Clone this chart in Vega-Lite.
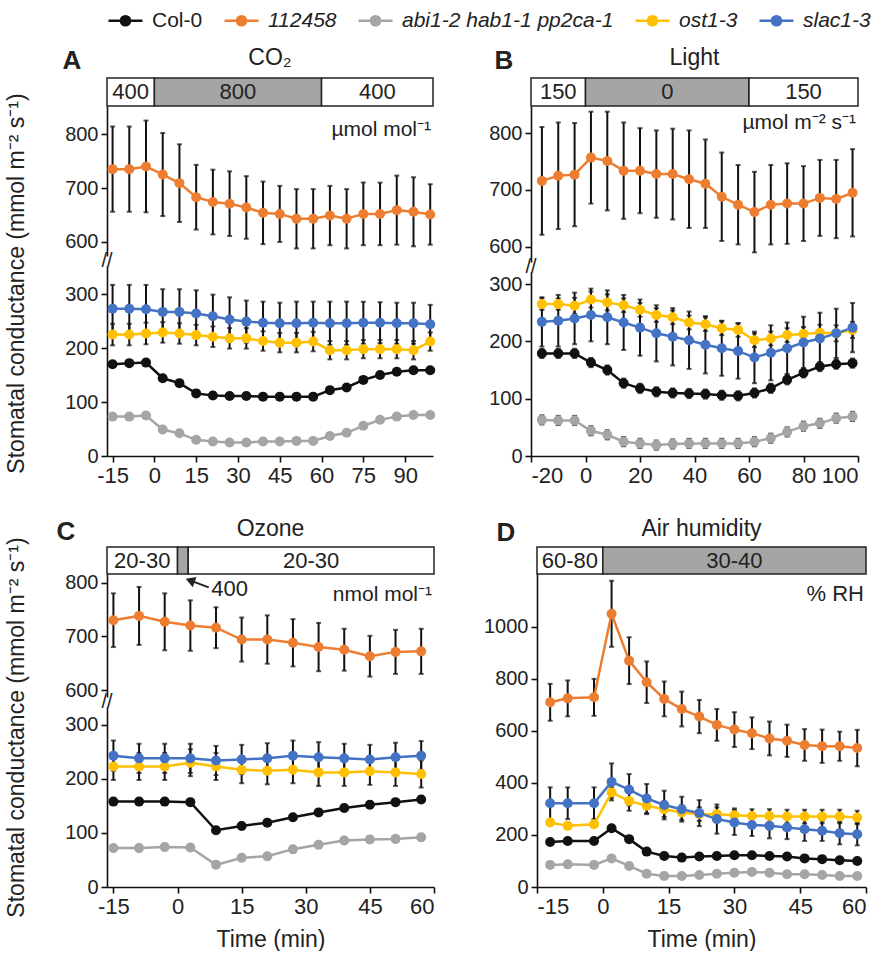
{
"$schema":"https://vega.github.io/schema/vega-lite/v6.json",
"padding":{"left":5,"top":2,"right":5,"bottom":0},
"background":"white",
"config":{
 "font":"Liberation Sans",
 "view":{"stroke":null},
 "axis":{"domainColor":"#111","domainWidth":1.6,"tickColor":"#111","tickWidth":1.6,"tickSize":6,"labelFontSize":20,"labelColor":"#222","titleFontSize":23,"titleFontWeight":"normal","titleColor":"#222","grid":false,"labelPadding":3,"labelFont":"Liberation Sans","titleFont":"Liberation Sans"},
 "axisX":{"labelFontSize":22},
 "legend":{"orient":"top","direction":"horizontal","labelFontSize":21,"labelColor":"#222","labelFont":"Liberation Sans","labelLimit":0,"symbolType":"M-1,0H1M0.27,0A0.27,0.27,0,1,1,-0.27,0A0.27,0.27,0,1,1,0.27,0Z","symbolSize":1156,"symbolStrokeWidth":2.5,"labelOffset":8,"columnPadding":16,"offset":16},
 "text":{"font":"Liberation Sans","color":"#222"}
},
"datasets":{
"boxes":[
{"panel":"A","start":-17,"end":0,"mid":-8.5,"label":"400","shade":"off"},
{"panel":"A","start":0,"end":60,"mid":30,"label":"800","shade":"on"},
{"panel":"A","start":60,"end":100,"mid":80,"label":"400","shade":"off"},
{"panel":"B","start":-20,"end":0,"mid":-10,"label":"150","shade":"off"},
{"panel":"B","start":0,"end":60,"mid":30,"label":"0","shade":"on"},
{"panel":"B","start":60,"end":100,"mid":80,"label":"150","shade":"off"},
{"panel":"C","start":-16.5,"end":0,"mid":-8.25,"label":"20-30","shade":"off"},
{"panel":"C","start":0,"end":2.5,"mid":1.25,"label":"","shade":"on"},
{"panel":"C","start":2.5,"end":60,"mid":31.25,"label":"20-30","shade":"off"},
{"panel":"D","start":-15,"end":0,"mid":-7.5,"label":"60-80","shade":"off"},
{"panel":"D","start":0,"end":60,"mid":30,"label":"30-40","shade":"on"}
],
"obs":[
{"panel":"A","geno":"Col-0","t":-15,"gs":170,"se":5},
{"panel":"A","geno":"Col-0","t":-9,"gs":172,"se":5},
{"panel":"A","geno":"Col-0","t":-3,"gs":173,"se":5},
{"panel":"A","geno":"Col-0","t":3,"gs":144,"se":5},
{"panel":"A","geno":"Col-0","t":9,"gs":135,"se":5},
{"panel":"A","geno":"Col-0","t":15,"gs":116,"se":5},
{"panel":"A","geno":"Col-0","t":21,"gs":112,"se":5},
{"panel":"A","geno":"Col-0","t":27,"gs":111,"se":5},
{"panel":"A","geno":"Col-0","t":33,"gs":111,"se":5},
{"panel":"A","geno":"Col-0","t":39,"gs":110,"se":5},
{"panel":"A","geno":"Col-0","t":45,"gs":110,"se":5},
{"panel":"A","geno":"Col-0","t":51,"gs":110,"se":5},
{"panel":"A","geno":"Col-0","t":57,"gs":110,"se":5},
{"panel":"A","geno":"Col-0","t":63,"gs":122,"se":5},
{"panel":"A","geno":"Col-0","t":69,"gs":127,"se":5},
{"panel":"A","geno":"Col-0","t":75,"gs":141,"se":5},
{"panel":"A","geno":"Col-0","t":81,"gs":150,"se":5},
{"panel":"A","geno":"Col-0","t":87,"gs":156,"se":5},
{"panel":"A","geno":"Col-0","t":93,"gs":159,"se":5},
{"panel":"A","geno":"Col-0","t":99,"gs":159,"se":5},
{"panel":"A","geno":"112458","t":-15,"gs":735,"se":79},
{"panel":"A","geno":"112458","t":-9,"gs":735,"se":79},
{"panel":"A","geno":"112458","t":-3,"gs":740,"se":85},
{"panel":"A","geno":"112458","t":3,"gs":725,"se":77},
{"panel":"A","geno":"112458","t":9,"gs":709,"se":72},
{"panel":"A","geno":"112458","t":15,"gs":683,"se":60},
{"panel":"A","geno":"112458","t":21,"gs":674,"se":60},
{"panel":"A","geno":"112458","t":27,"gs":671,"se":60},
{"panel":"A","geno":"112458","t":33,"gs":664,"se":58},
{"panel":"A","geno":"112458","t":39,"gs":654,"se":58},
{"panel":"A","geno":"112458","t":45,"gs":652,"se":52},
{"panel":"A","geno":"112458","t":51,"gs":643,"se":55},
{"panel":"A","geno":"112458","t":57,"gs":643,"se":55},
{"panel":"A","geno":"112458","t":63,"gs":649,"se":55},
{"panel":"A","geno":"112458","t":69,"gs":643,"se":55},
{"panel":"A","geno":"112458","t":75,"gs":652,"se":58},
{"panel":"A","geno":"112458","t":81,"gs":652,"se":58},
{"panel":"A","geno":"112458","t":87,"gs":659,"se":64},
{"panel":"A","geno":"112458","t":93,"gs":656,"se":64},
{"panel":"A","geno":"112458","t":99,"gs":651,"se":56},
{"panel":"A","geno":"abi1-2 hab1-1 pp2ca-1","t":-15,"gs":73,"se":5},
{"panel":"A","geno":"abi1-2 hab1-1 pp2ca-1","t":-9,"gs":73,"se":5},
{"panel":"A","geno":"abi1-2 hab1-1 pp2ca-1","t":-3,"gs":75,"se":5},
{"panel":"A","geno":"abi1-2 hab1-1 pp2ca-1","t":3,"gs":49,"se":5},
{"panel":"A","geno":"abi1-2 hab1-1 pp2ca-1","t":9,"gs":42,"se":5},
{"panel":"A","geno":"abi1-2 hab1-1 pp2ca-1","t":15,"gs":30,"se":5},
{"panel":"A","geno":"abi1-2 hab1-1 pp2ca-1","t":21,"gs":27,"se":5},
{"panel":"A","geno":"abi1-2 hab1-1 pp2ca-1","t":27,"gs":25,"se":5},
{"panel":"A","geno":"abi1-2 hab1-1 pp2ca-1","t":33,"gs":25,"se":5},
{"panel":"A","geno":"abi1-2 hab1-1 pp2ca-1","t":39,"gs":27,"se":5},
{"panel":"A","geno":"abi1-2 hab1-1 pp2ca-1","t":45,"gs":27,"se":5},
{"panel":"A","geno":"abi1-2 hab1-1 pp2ca-1","t":51,"gs":28,"se":5},
{"panel":"A","geno":"abi1-2 hab1-1 pp2ca-1","t":57,"gs":28,"se":5},
{"panel":"A","geno":"abi1-2 hab1-1 pp2ca-1","t":63,"gs":37,"se":5},
{"panel":"A","geno":"abi1-2 hab1-1 pp2ca-1","t":69,"gs":43,"se":5},
{"panel":"A","geno":"abi1-2 hab1-1 pp2ca-1","t":75,"gs":56,"se":5},
{"panel":"A","geno":"abi1-2 hab1-1 pp2ca-1","t":81,"gs":67,"se":5},
{"panel":"A","geno":"abi1-2 hab1-1 pp2ca-1","t":87,"gs":73,"se":5},
{"panel":"A","geno":"abi1-2 hab1-1 pp2ca-1","t":93,"gs":76,"se":5},
{"panel":"A","geno":"abi1-2 hab1-1 pp2ca-1","t":99,"gs":76,"se":5},
{"panel":"A","geno":"ost1-3","t":-15,"gs":225,"se":20},
{"panel":"A","geno":"ost1-3","t":-9,"gs":225,"se":20},
{"panel":"A","geno":"ost1-3","t":-3,"gs":227,"se":20},
{"panel":"A","geno":"ost1-3","t":3,"gs":229,"se":19},
{"panel":"A","geno":"ost1-3","t":9,"gs":227,"se":19},
{"panel":"A","geno":"ost1-3","t":15,"gs":224,"se":19},
{"panel":"A","geno":"ost1-3","t":21,"gs":221,"se":19},
{"panel":"A","geno":"ost1-3","t":27,"gs":218,"se":19},
{"panel":"A","geno":"ost1-3","t":33,"gs":218,"se":19},
{"panel":"A","geno":"ost1-3","t":39,"gs":213,"se":18},
{"panel":"A","geno":"ost1-3","t":45,"gs":210,"se":18},
{"panel":"A","geno":"ost1-3","t":51,"gs":210,"se":18},
{"panel":"A","geno":"ost1-3","t":57,"gs":212,"se":18},
{"panel":"A","geno":"ost1-3","t":63,"gs":196,"se":17},
{"panel":"A","geno":"ost1-3","t":69,"gs":196,"se":17},
{"panel":"A","geno":"ost1-3","t":75,"gs":198,"se":17},
{"panel":"A","geno":"ost1-3","t":81,"gs":198,"se":17},
{"panel":"A","geno":"ost1-3","t":87,"gs":198,"se":17},
{"panel":"A","geno":"ost1-3","t":93,"gs":196,"se":17},
{"panel":"A","geno":"ost1-3","t":99,"gs":212,"se":17},
{"panel":"A","geno":"slac1-3","t":-15,"gs":273,"se":44},
{"panel":"A","geno":"slac1-3","t":-9,"gs":273,"se":44},
{"panel":"A","geno":"slac1-3","t":-3,"gs":272,"se":45},
{"panel":"A","geno":"slac1-3","t":3,"gs":267,"se":42},
{"panel":"A","geno":"slac1-3","t":9,"gs":267,"se":42},
{"panel":"A","geno":"slac1-3","t":15,"gs":264,"se":43},
{"panel":"A","geno":"slac1-3","t":21,"gs":259,"se":40},
{"panel":"A","geno":"slac1-3","t":27,"gs":253,"se":41},
{"panel":"A","geno":"slac1-3","t":33,"gs":249,"se":39},
{"panel":"A","geno":"slac1-3","t":39,"gs":247,"se":39},
{"panel":"A","geno":"slac1-3","t":45,"gs":246,"se":38},
{"panel":"A","geno":"slac1-3","t":51,"gs":246,"se":40},
{"panel":"A","geno":"slac1-3","t":57,"gs":247,"se":39},
{"panel":"A","geno":"slac1-3","t":63,"gs":246,"se":40},
{"panel":"A","geno":"slac1-3","t":69,"gs":246,"se":40},
{"panel":"A","geno":"slac1-3","t":75,"gs":247,"se":39},
{"panel":"A","geno":"slac1-3","t":81,"gs":247,"se":38},
{"panel":"A","geno":"slac1-3","t":87,"gs":246,"se":38},
{"panel":"A","geno":"slac1-3","t":93,"gs":246,"se":38},
{"panel":"A","geno":"slac1-3","t":99,"gs":244,"se":36},
{"panel":"B","geno":"Col-0","t":-16,"gs":179,"se":8},
{"panel":"B","geno":"Col-0","t":-10,"gs":179,"se":8},
{"panel":"B","geno":"Col-0","t":-4,"gs":179,"se":8},
{"panel":"B","geno":"Col-0","t":2,"gs":163,"se":8},
{"panel":"B","geno":"Col-0","t":8,"gs":150,"se":8},
{"panel":"B","geno":"Col-0","t":14,"gs":127,"se":8},
{"panel":"B","geno":"Col-0","t":20,"gs":118,"se":8},
{"panel":"B","geno":"Col-0","t":26,"gs":112,"se":8},
{"panel":"B","geno":"Col-0","t":32,"gs":110,"se":8},
{"panel":"B","geno":"Col-0","t":38,"gs":109,"se":8},
{"panel":"B","geno":"Col-0","t":44,"gs":108,"se":8},
{"panel":"B","geno":"Col-0","t":50,"gs":106,"se":8},
{"panel":"B","geno":"Col-0","t":56,"gs":105,"se":8},
{"panel":"B","geno":"Col-0","t":62,"gs":110,"se":8},
{"panel":"B","geno":"Col-0","t":68,"gs":118,"se":8},
{"panel":"B","geno":"Col-0","t":74,"gs":133,"se":8},
{"panel":"B","geno":"Col-0","t":80,"gs":145,"se":8},
{"panel":"B","geno":"Col-0","t":86,"gs":156,"se":8},
{"panel":"B","geno":"Col-0","t":92,"gs":160,"se":8},
{"panel":"B","geno":"Col-0","t":98,"gs":162,"se":8},
{"panel":"B","geno":"112458","t":-16,"gs":716,"se":95},
{"panel":"B","geno":"112458","t":-10,"gs":725,"se":94},
{"panel":"B","geno":"112458","t":-4,"gs":727,"se":91},
{"panel":"B","geno":"112458","t":2,"gs":757,"se":81},
{"panel":"B","geno":"112458","t":8,"gs":751,"se":87},
{"panel":"B","geno":"112458","t":14,"gs":734,"se":85},
{"panel":"B","geno":"112458","t":20,"gs":734,"se":75},
{"panel":"B","geno":"112458","t":26,"gs":728,"se":77},
{"panel":"B","geno":"112458","t":32,"gs":728,"se":80},
{"panel":"B","geno":"112458","t":38,"gs":719,"se":86},
{"panel":"B","geno":"112458","t":44,"gs":711,"se":78},
{"panel":"B","geno":"112458","t":50,"gs":688,"se":78},
{"panel":"B","geno":"112458","t":56,"gs":674,"se":70},
{"panel":"B","geno":"112458","t":62,"gs":661,"se":71},
{"panel":"B","geno":"112458","t":68,"gs":674,"se":70},
{"panel":"B","geno":"112458","t":74,"gs":676,"se":71},
{"panel":"B","geno":"112458","t":80,"gs":676,"se":66},
{"panel":"B","geno":"112458","t":86,"gs":686,"se":67},
{"panel":"B","geno":"112458","t":92,"gs":684,"se":69},
{"panel":"B","geno":"112458","t":98,"gs":695,"se":77},
{"panel":"B","geno":"abi1-2 hab1-1 pp2ca-1","t":-16,"gs":63,"se":8},
{"panel":"B","geno":"abi1-2 hab1-1 pp2ca-1","t":-10,"gs":62,"se":8},
{"panel":"B","geno":"abi1-2 hab1-1 pp2ca-1","t":-4,"gs":62,"se":8},
{"panel":"B","geno":"abi1-2 hab1-1 pp2ca-1","t":2,"gs":44,"se":8},
{"panel":"B","geno":"abi1-2 hab1-1 pp2ca-1","t":8,"gs":37,"se":8},
{"panel":"B","geno":"abi1-2 hab1-1 pp2ca-1","t":14,"gs":25,"se":8},
{"panel":"B","geno":"abi1-2 hab1-1 pp2ca-1","t":20,"gs":22,"se":8},
{"panel":"B","geno":"abi1-2 hab1-1 pp2ca-1","t":26,"gs":19,"se":8},
{"panel":"B","geno":"abi1-2 hab1-1 pp2ca-1","t":32,"gs":21,"se":8},
{"panel":"B","geno":"abi1-2 hab1-1 pp2ca-1","t":38,"gs":22,"se":8},
{"panel":"B","geno":"abi1-2 hab1-1 pp2ca-1","t":44,"gs":22,"se":8},
{"panel":"B","geno":"abi1-2 hab1-1 pp2ca-1","t":50,"gs":22,"se":8},
{"panel":"B","geno":"abi1-2 hab1-1 pp2ca-1","t":56,"gs":22,"se":8},
{"panel":"B","geno":"abi1-2 hab1-1 pp2ca-1","t":62,"gs":25,"se":8},
{"panel":"B","geno":"abi1-2 hab1-1 pp2ca-1","t":68,"gs":31,"se":8},
{"panel":"B","geno":"abi1-2 hab1-1 pp2ca-1","t":74,"gs":42,"se":8},
{"panel":"B","geno":"abi1-2 hab1-1 pp2ca-1","t":80,"gs":52,"se":8},
{"panel":"B","geno":"abi1-2 hab1-1 pp2ca-1","t":86,"gs":57,"se":8},
{"panel":"B","geno":"abi1-2 hab1-1 pp2ca-1","t":92,"gs":66,"se":8},
{"panel":"B","geno":"abi1-2 hab1-1 pp2ca-1","t":98,"gs":69,"se":8},
{"panel":"B","geno":"ost1-3","t":-16,"gs":265,"se":10},
{"panel":"B","geno":"ost1-3","t":-10,"gs":265,"se":10},
{"panel":"B","geno":"ost1-3","t":-4,"gs":262,"se":14},
{"panel":"B","geno":"ost1-3","t":2,"gs":273,"se":14},
{"panel":"B","geno":"ost1-3","t":8,"gs":268,"se":14},
{"panel":"B","geno":"ost1-3","t":14,"gs":263,"se":12},
{"panel":"B","geno":"ost1-3","t":20,"gs":255,"se":12},
{"panel":"B","geno":"ost1-3","t":26,"gs":246,"se":12},
{"panel":"B","geno":"ost1-3","t":32,"gs":242,"se":12},
{"panel":"B","geno":"ost1-3","t":38,"gs":233,"se":12},
{"panel":"B","geno":"ost1-3","t":44,"gs":230,"se":12},
{"panel":"B","geno":"ost1-3","t":50,"gs":223,"se":12},
{"panel":"B","geno":"ost1-3","t":56,"gs":220,"se":12},
{"panel":"B","geno":"ost1-3","t":62,"gs":202,"se":12},
{"panel":"B","geno":"ost1-3","t":68,"gs":205,"se":12},
{"panel":"B","geno":"ost1-3","t":74,"gs":211,"se":12},
{"panel":"B","geno":"ost1-3","t":80,"gs":213,"se":12},
{"panel":"B","geno":"ost1-3","t":86,"gs":215,"se":14},
{"panel":"B","geno":"ost1-3","t":92,"gs":214,"se":14},
{"panel":"B","geno":"ost1-3","t":98,"gs":220,"se":14},
{"panel":"B","geno":"slac1-3","t":-16,"gs":234,"se":43},
{"panel":"B","geno":"slac1-3","t":-10,"gs":236,"se":45},
{"panel":"B","geno":"slac1-3","t":-4,"gs":240,"se":45},
{"panel":"B","geno":"slac1-3","t":2,"gs":246,"se":46},
{"panel":"B","geno":"slac1-3","t":8,"gs":242,"se":47},
{"panel":"B","geno":"slac1-3","t":14,"gs":233,"se":48},
{"panel":"B","geno":"slac1-3","t":20,"gs":224,"se":49},
{"panel":"B","geno":"slac1-3","t":26,"gs":214,"se":49},
{"panel":"B","geno":"slac1-3","t":32,"gs":208,"se":50},
{"panel":"B","geno":"slac1-3","t":38,"gs":202,"se":50},
{"panel":"B","geno":"slac1-3","t":44,"gs":194,"se":50},
{"panel":"B","geno":"slac1-3","t":50,"gs":188,"se":48},
{"panel":"B","geno":"slac1-3","t":56,"gs":183,"se":48},
{"panel":"B","geno":"slac1-3","t":62,"gs":172,"se":45},
{"panel":"B","geno":"slac1-3","t":68,"gs":180,"se":48},
{"panel":"B","geno":"slac1-3","t":74,"gs":188,"se":45},
{"panel":"B","geno":"slac1-3","t":80,"gs":198,"se":45},
{"panel":"B","geno":"slac1-3","t":86,"gs":205,"se":45},
{"panel":"B","geno":"slac1-3","t":92,"gs":214,"se":43},
{"panel":"B","geno":"slac1-3","t":98,"gs":224,"se":43},
{"panel":"C","geno":"Col-0","t":-15,"gs":158,"se":6},
{"panel":"C","geno":"Col-0","t":-9,"gs":158,"se":6},
{"panel":"C","geno":"Col-0","t":-3,"gs":158,"se":6},
{"panel":"C","geno":"Col-0","t":3,"gs":157,"se":6},
{"panel":"C","geno":"Col-0","t":9,"gs":105,"se":6},
{"panel":"C","geno":"Col-0","t":15,"gs":113,"se":6},
{"panel":"C","geno":"Col-0","t":21,"gs":119,"se":6},
{"panel":"C","geno":"Col-0","t":27,"gs":129,"se":6},
{"panel":"C","geno":"Col-0","t":33,"gs":138,"se":6},
{"panel":"C","geno":"Col-0","t":39,"gs":146,"se":6},
{"panel":"C","geno":"Col-0","t":45,"gs":152,"se":6},
{"panel":"C","geno":"Col-0","t":51,"gs":157,"se":6},
{"panel":"C","geno":"Col-0","t":57,"gs":162,"se":6},
{"panel":"C","geno":"112458","t":-15,"gs":730,"se":50},
{"panel":"C","geno":"112458","t":-9,"gs":738,"se":54},
{"panel":"C","geno":"112458","t":-3,"gs":727,"se":53},
{"panel":"C","geno":"112458","t":3,"gs":720,"se":47},
{"panel":"C","geno":"112458","t":9,"gs":716,"se":38},
{"panel":"C","geno":"112458","t":15,"gs":694,"se":41},
{"panel":"C","geno":"112458","t":21,"gs":694,"se":45},
{"panel":"C","geno":"112458","t":27,"gs":688,"se":44},
{"panel":"C","geno":"112458","t":33,"gs":680,"se":45},
{"panel":"C","geno":"112458","t":39,"gs":675,"se":39},
{"panel":"C","geno":"112458","t":45,"gs":663,"se":38},
{"panel":"C","geno":"112458","t":51,"gs":671,"se":41},
{"panel":"C","geno":"112458","t":57,"gs":672,"se":42},
{"panel":"C","geno":"abi1-2 hab1-1 pp2ca-1","t":-15,"gs":72,"se":6},
{"panel":"C","geno":"abi1-2 hab1-1 pp2ca-1","t":-9,"gs":72,"se":6},
{"panel":"C","geno":"abi1-2 hab1-1 pp2ca-1","t":-3,"gs":74,"se":6},
{"panel":"C","geno":"abi1-2 hab1-1 pp2ca-1","t":3,"gs":73,"se":6},
{"panel":"C","geno":"abi1-2 hab1-1 pp2ca-1","t":9,"gs":41,"se":6},
{"panel":"C","geno":"abi1-2 hab1-1 pp2ca-1","t":15,"gs":54,"se":6},
{"panel":"C","geno":"abi1-2 hab1-1 pp2ca-1","t":21,"gs":57,"se":6},
{"panel":"C","geno":"abi1-2 hab1-1 pp2ca-1","t":27,"gs":70,"se":6},
{"panel":"C","geno":"abi1-2 hab1-1 pp2ca-1","t":33,"gs":78,"se":6},
{"panel":"C","geno":"abi1-2 hab1-1 pp2ca-1","t":39,"gs":86,"se":6},
{"panel":"C","geno":"abi1-2 hab1-1 pp2ca-1","t":45,"gs":88,"se":6},
{"panel":"C","geno":"abi1-2 hab1-1 pp2ca-1","t":51,"gs":89,"se":6},
{"panel":"C","geno":"abi1-2 hab1-1 pp2ca-1","t":57,"gs":92,"se":6},
{"panel":"C","geno":"ost1-3","t":-15,"gs":223,"se":25},
{"panel":"C","geno":"ost1-3","t":-9,"gs":223,"se":25},
{"panel":"C","geno":"ost1-3","t":-3,"gs":223,"se":25},
{"panel":"C","geno":"ost1-3","t":3,"gs":230,"se":25},
{"panel":"C","geno":"ost1-3","t":9,"gs":223,"se":25},
{"panel":"C","geno":"ost1-3","t":15,"gs":217,"se":25},
{"panel":"C","geno":"ost1-3","t":21,"gs":215,"se":25},
{"panel":"C","geno":"ost1-3","t":27,"gs":217,"se":25},
{"panel":"C","geno":"ost1-3","t":33,"gs":212,"se":25},
{"panel":"C","geno":"ost1-3","t":39,"gs":212,"se":25},
{"panel":"C","geno":"ost1-3","t":45,"gs":214,"se":25},
{"panel":"C","geno":"ost1-3","t":51,"gs":212,"se":25},
{"panel":"C","geno":"ost1-3","t":57,"gs":209,"se":25},
{"panel":"C","geno":"slac1-3","t":-15,"gs":243,"se":28},
{"panel":"C","geno":"slac1-3","t":-9,"gs":238,"se":27},
{"panel":"C","geno":"slac1-3","t":-3,"gs":238,"se":27},
{"panel":"C","geno":"slac1-3","t":3,"gs":238,"se":27},
{"panel":"C","geno":"slac1-3","t":9,"gs":234,"se":27},
{"panel":"C","geno":"slac1-3","t":15,"gs":236,"se":27},
{"panel":"C","geno":"slac1-3","t":21,"gs":238,"se":28},
{"panel":"C","geno":"slac1-3","t":27,"gs":243,"se":28},
{"panel":"C","geno":"slac1-3","t":33,"gs":240,"se":28},
{"panel":"C","geno":"slac1-3","t":39,"gs":238,"se":27},
{"panel":"C","geno":"slac1-3","t":45,"gs":236,"se":27},
{"panel":"C","geno":"slac1-3","t":51,"gs":240,"se":27},
{"panel":"C","geno":"slac1-3","t":57,"gs":243,"se":27},
{"panel":"D","geno":"Col-0","t":-12,"gs":173,"se":8},
{"panel":"D","geno":"Col-0","t":-8,"gs":177,"se":8},
{"panel":"D","geno":"Col-0","t":-2,"gs":177,"se":8},
{"panel":"D","geno":"Col-0","t":2,"gs":226,"se":8},
{"panel":"D","geno":"Col-0","t":6,"gs":184,"se":8},
{"panel":"D","geno":"Col-0","t":10,"gs":136,"se":8},
{"panel":"D","geno":"Col-0","t":14,"gs":119,"se":8},
{"panel":"D","geno":"Col-0","t":18,"gs":113,"se":8},
{"panel":"D","geno":"Col-0","t":22,"gs":117,"se":8},
{"panel":"D","geno":"Col-0","t":26,"gs":119,"se":8},
{"panel":"D","geno":"Col-0","t":30,"gs":122,"se":8},
{"panel":"D","geno":"Col-0","t":34,"gs":122,"se":8},
{"panel":"D","geno":"Col-0","t":38,"gs":119,"se":8},
{"panel":"D","geno":"Col-0","t":42,"gs":117,"se":8},
{"panel":"D","geno":"Col-0","t":46,"gs":110,"se":8},
{"panel":"D","geno":"Col-0","t":50,"gs":107,"se":8},
{"panel":"D","geno":"Col-0","t":54,"gs":103,"se":8},
{"panel":"D","geno":"Col-0","t":58,"gs":100,"se":8},
{"panel":"D","geno":"112458","t":-12,"gs":710,"se":71},
{"panel":"D","geno":"112458","t":-8,"gs":725,"se":69},
{"panel":"D","geno":"112458","t":-2,"gs":729,"se":71},
{"panel":"D","geno":"112458","t":2,"gs":1050,"se":127},
{"panel":"D","geno":"112458","t":6,"gs":870,"se":90},
{"panel":"D","geno":"112458","t":10,"gs":787,"se":80},
{"panel":"D","geno":"112458","t":14,"gs":723,"se":67},
{"panel":"D","geno":"112458","t":18,"gs":684,"se":67},
{"panel":"D","geno":"112458","t":22,"gs":655,"se":64},
{"panel":"D","geno":"112458","t":26,"gs":623,"se":61},
{"panel":"D","geno":"112458","t":30,"gs":605,"se":67},
{"panel":"D","geno":"112458","t":34,"gs":591,"se":61},
{"panel":"D","geno":"112458","t":38,"gs":571,"se":65},
{"panel":"D","geno":"112458","t":42,"gs":562,"se":62},
{"panel":"D","geno":"112458","t":46,"gs":546,"se":61},
{"panel":"D","geno":"112458","t":50,"gs":541,"se":64},
{"panel":"D","geno":"112458","t":54,"gs":541,"se":56},
{"panel":"D","geno":"112458","t":58,"gs":534,"se":70},
{"panel":"D","geno":"abi1-2 hab1-1 pp2ca-1","t":-12,"gs":85,"se":6},
{"panel":"D","geno":"abi1-2 hab1-1 pp2ca-1","t":-8,"gs":87,"se":6},
{"panel":"D","geno":"abi1-2 hab1-1 pp2ca-1","t":-2,"gs":85,"se":6},
{"panel":"D","geno":"abi1-2 hab1-1 pp2ca-1","t":2,"gs":110,"se":6},
{"panel":"D","geno":"abi1-2 hab1-1 pp2ca-1","t":6,"gs":81,"se":6},
{"panel":"D","geno":"abi1-2 hab1-1 pp2ca-1","t":10,"gs":51,"se":6},
{"panel":"D","geno":"abi1-2 hab1-1 pp2ca-1","t":14,"gs":42,"se":6},
{"panel":"D","geno":"abi1-2 hab1-1 pp2ca-1","t":18,"gs":42,"se":6},
{"panel":"D","geno":"abi1-2 hab1-1 pp2ca-1","t":22,"gs":46,"se":6},
{"panel":"D","geno":"abi1-2 hab1-1 pp2ca-1","t":26,"gs":51,"se":6},
{"panel":"D","geno":"abi1-2 hab1-1 pp2ca-1","t":30,"gs":55,"se":6},
{"panel":"D","geno":"abi1-2 hab1-1 pp2ca-1","t":34,"gs":58,"se":6},
{"panel":"D","geno":"abi1-2 hab1-1 pp2ca-1","t":38,"gs":55,"se":6},
{"panel":"D","geno":"abi1-2 hab1-1 pp2ca-1","t":42,"gs":49,"se":6},
{"panel":"D","geno":"abi1-2 hab1-1 pp2ca-1","t":46,"gs":49,"se":6},
{"panel":"D","geno":"abi1-2 hab1-1 pp2ca-1","t":50,"gs":46,"se":6},
{"panel":"D","geno":"abi1-2 hab1-1 pp2ca-1","t":54,"gs":42,"se":6},
{"panel":"D","geno":"abi1-2 hab1-1 pp2ca-1","t":58,"gs":42,"se":6},
{"panel":"D","geno":"ost1-3","t":-12,"gs":248,"se":10},
{"panel":"D","geno":"ost1-3","t":-8,"gs":235,"se":10},
{"panel":"D","geno":"ost1-3","t":-2,"gs":241,"se":10},
{"panel":"D","geno":"ost1-3","t":2,"gs":363,"se":20},
{"panel":"D","geno":"ost1-3","t":6,"gs":331,"se":38},
{"panel":"D","geno":"ost1-3","t":10,"gs":312,"se":32},
{"panel":"D","geno":"ost1-3","t":14,"gs":299,"se":30},
{"panel":"D","geno":"ost1-3","t":18,"gs":286,"se":28},
{"panel":"D","geno":"ost1-3","t":22,"gs":280,"se":26},
{"panel":"D","geno":"ost1-3","t":26,"gs":280,"se":26},
{"panel":"D","geno":"ost1-3","t":30,"gs":276,"se":26},
{"panel":"D","geno":"ost1-3","t":34,"gs":273,"se":26},
{"panel":"D","geno":"ost1-3","t":38,"gs":273,"se":26},
{"panel":"D","geno":"ost1-3","t":42,"gs":271,"se":26},
{"panel":"D","geno":"ost1-3","t":46,"gs":271,"se":26},
{"panel":"D","geno":"ost1-3","t":50,"gs":271,"se":26},
{"panel":"D","geno":"ost1-3","t":54,"gs":271,"se":26},
{"panel":"D","geno":"ost1-3","t":58,"gs":267,"se":26},
{"panel":"D","geno":"slac1-3","t":-12,"gs":322,"se":61},
{"panel":"D","geno":"slac1-3","t":-8,"gs":322,"se":61},
{"panel":"D","geno":"slac1-3","t":-2,"gs":322,"se":61},
{"panel":"D","geno":"slac1-3","t":2,"gs":404,"se":71},
{"panel":"D","geno":"slac1-3","t":6,"gs":374,"se":60},
{"panel":"D","geno":"slac1-3","t":10,"gs":340,"se":56},
{"panel":"D","geno":"slac1-3","t":14,"gs":315,"se":55},
{"panel":"D","geno":"slac1-3","t":18,"gs":299,"se":48},
{"panel":"D","geno":"slac1-3","t":22,"gs":284,"se":50},
{"panel":"D","geno":"slac1-3","t":26,"gs":261,"se":56},
{"panel":"D","geno":"slac1-3","t":30,"gs":248,"se":48},
{"panel":"D","geno":"slac1-3","t":34,"gs":238,"se":42},
{"panel":"D","geno":"slac1-3","t":38,"gs":235,"se":48},
{"panel":"D","geno":"slac1-3","t":42,"gs":229,"se":45},
{"panel":"D","geno":"slac1-3","t":46,"gs":222,"se":45},
{"panel":"D","geno":"slac1-3","t":50,"gs":216,"se":39},
{"panel":"D","geno":"slac1-3","t":54,"gs":207,"se":43},
{"panel":"D","geno":"slac1-3","t":58,"gs":203,"se":43}
]
},
"vconcat":[
{"hconcat":[
 {"vconcat":[
  {"width":326,"height":28,
   "layer":[
    {"data":{"name":"boxes"},"transform":[{"filter":"datum.panel == 'A'"}],
     "layer":[
      {"mark":{"type":"rect","stroke":"#222","strokeWidth":1.5},
       "encoding":{"x":{"field":"start","type":"quantitative","scale":{"domain":[-17,100],"nice":false,"zero":false},"axis":null},"x2":{"field":"end"},
        "fill":{"field":"shade","type":"nominal","scale":{"domain":["off","on"],"range":["#ffffff","#a6a5a5"]},"legend":null}}},
      {"mark":{"type":"text","fontSize":22,"baseline":"middle"},
       "encoding":{"x":{"field":"mid","type":"quantitative"},"text":{"field":"label"}}}
     ]},
    {"data":{"values":[{"letter":"A"}]},
     "mark":{"type":"text","fontSize":26,"fontWeight":"bold","dx":-35,"dy":-31,"baseline":"middle"},
     "encoding":{"x":{"datum":-17},"text":{"field":"letter"}}},
    {"data":{"values":[{"head":"CO₂"}]},
     "mark":{"type":"text","fontSize":23,"dy":-34,"baseline":"middle"},
     "encoding":{"x":{"datum":41.5},"text":{"field":"head"}}}
   ]},
  {"vconcat":[
   {"width":326,"height":150,
    "layer":[
     {"data":{"name":"obs"},"transform":[{"filter":"datum.panel == 'A' && datum.geno == '112458'"}],
      "encoding":{"x":{"field":"t","type":"quantitative","scale":{"domain":[-17,100],"nice":false,"zero":false},"axis":null},
       "y":{"field":"gs","type":"quantitative","scale":{"domain":[574,852],"nice":false,"zero":false},"axis":{"values":[600,700,800],"title":null}}},
      "layer":[
       {"mark":{"type":"errorbar","ticks":true,"thickness":2,"color":"#111"},"encoding":{"yError":{"field":"se"}}},
       {"mark":{"type":"line","strokeWidth":2.5},"encoding":{"color":{"field":"geno","type":"nominal","scale":{"domain":["Col-0","112458","abi1-2 hab1-1 pp2ca-1","ost1-3","slac1-3"],"range":["#111111","#ED7D31","#A5A5A5","#FFC000","#4472C4"]},"legend":{"title":null,"encode":{"symbols":{"update":{"fill":{"scale":"color","field":"value"},"stroke":{"scale":"color","field":"value"},"strokeWidth":{"value":2.5},"opacity":{"value":1}}},"labels":{"update":{"fontStyle":{"signal":"datum.value === 'Col-0' ? 'normal' : 'italic'"}}}}}}}},
       {"mark":{"type":"point","filled":true,"size":100,"opacity":1},"encoding":{"color":{"field":"geno","type":"nominal","legend":{"title":null,"encode":{"symbols":{"update":{"fill":{"scale":"color","field":"value"},"stroke":{"scale":"color","field":"value"},"strokeWidth":{"value":2.5},"opacity":{"value":1}}},"labels":{"update":{"fontStyle":{"signal":"datum.value === 'Col-0' ? 'normal' : 'italic'"}}}}}}}}
      ]},
     {"data":{"values":[{"unit":"µmol mol⁻¹"}]},"mark":{"type":"text","align":"right","baseline":"middle","fontSize":21,"dx":-2},
      "encoding":{"x":{"datum":100},"y":{"datum":808},"text":{"field":"unit"}}}
    ]},
   {"width":326,"height":190,
    "layer":[
     {"data":{"name":"obs"},"transform":[{"filter":"datum.panel == 'A' && datum.geno != '112458'"}],
      "encoding":{"x":{"field":"t","type":"quantitative","scale":{"domain":[-17,100],"nice":false,"zero":false},"axis":{"values":[-15,0,15,30,45,60,75,90],"title":null,"labelExpr":"'' + datum.value"}},
       "y":{"field":"gs","type":"quantitative","scale":{"domain":[0,352],"nice":false,"zero":false},"axis":{"values":[0,100,200,300],"title":"Stomatal conductance (mmol m⁻² s⁻¹)","titleY":17,"titlePadding":36}}},
      "layer":[
       {"mark":{"type":"errorbar","ticks":true,"thickness":2,"color":"#111"},"encoding":{"yError":{"field":"se"}}},
       {"mark":{"type":"line","strokeWidth":2.5},"encoding":{"color":{"field":"geno","type":"nominal"}}},
       {"mark":{"type":"point","filled":true,"size":100,"opacity":1},"encoding":{"color":{"field":"geno","type":"nominal"}}}
      ]},
     {"data":{"values":[{"brk":"//"}]},"mark":{"type":"text","fontSize":20,"baseline":"middle","dy":-5},
      "encoding":{"x":{"datum":-17},"y":{"datum":352},"text":{"field":"brk"}}}
    ]}
  ],"spacing":10,"bounds":"flush","resolve":{"scale":{"x":"independent","y":"independent"}}}
 ],"spacing":0,"bounds":"flush","resolve":{"scale":{"x":"independent","y":"independent"}}},
 {"vconcat":[
  {"width":327,"height":28,
   "layer":[
    {"data":{"name":"boxes"},"transform":[{"filter":"datum.panel == 'B'"}],
     "layer":[
      {"mark":{"type":"rect","stroke":"#222","strokeWidth":1.5},
       "encoding":{"x":{"field":"start","type":"quantitative","scale":{"domain":[-20,100],"nice":false,"zero":false},"axis":null},"x2":{"field":"end"},
        "fill":{"field":"shade","type":"nominal","scale":{"domain":["off","on"],"range":["#ffffff","#a6a5a5"]},"legend":null}}},
      {"mark":{"type":"text","fontSize":22,"baseline":"middle"},
       "encoding":{"x":{"field":"mid","type":"quantitative"},"text":{"field":"label"}}}
     ]},
    {"data":{"values":[{"letter":"B"}]},
     "mark":{"type":"text","fontSize":26,"fontWeight":"bold","dx":-27,"dy":-31,"baseline":"middle"},
     "encoding":{"x":{"datum":-20},"text":{"field":"letter"}}},
    {"data":{"values":[{"head":"Light"}]},
     "mark":{"type":"text","fontSize":23,"dy":-34,"baseline":"middle"},
     "encoding":{"x":{"datum":40},"text":{"field":"head"}}}
   ]},
  {"vconcat":[
   {"width":327,"height":156,
    "layer":[
     {"data":{"name":"obs"},"transform":[{"filter":"datum.panel == 'B' && datum.geno == '112458'"}],
      "encoding":{"x":{"field":"t","type":"quantitative","scale":{"domain":[-20,100],"nice":false,"zero":false},"axis":null},
       "y":{"field":"gs","type":"quantitative","scale":{"domain":[573,848],"nice":false,"zero":false},"axis":{"values":[600,700,800],"title":null}}},
      "layer":[
       {"mark":{"type":"errorbar","ticks":true,"thickness":2,"color":"#111"},"encoding":{"yError":{"field":"se"}}},
       {"mark":{"type":"line","strokeWidth":2.5},"encoding":{"color":{"field":"geno","type":"nominal"}}},
       {"mark":{"type":"point","filled":true,"size":100,"opacity":1},"encoding":{"color":{"field":"geno","type":"nominal"}}}
      ]},
     {"data":{"values":[{"unit":"µmol m⁻² s⁻¹"}]},"mark":{"type":"text","align":"right","baseline":"middle","fontSize":21,"dx":-2},
      "encoding":{"x":{"datum":100},"y":{"datum":818},"text":{"field":"unit"}}}
    ]},
   {"width":327,"height":184,
    "layer":[
     {"data":{"name":"obs"},"transform":[{"filter":"datum.panel == 'B' && datum.geno != '112458'"}],
      "encoding":{"x":{"field":"t","type":"quantitative","scale":{"domain":[-20,100],"nice":false,"zero":false},"axis":{"values":[-20,0,20,40,60,80,100],"title":null,"labelExpr":"'' + datum.value"}},
       "y":{"field":"gs","type":"quantitative","scale":{"domain":[0,321],"nice":false,"zero":false},"axis":{"values":[0,100,200,300],"title":null}}},
      "layer":[
       {"mark":{"type":"errorbar","ticks":true,"thickness":2,"color":"#111"},"encoding":{"yError":{"field":"se"}}},
       {"mark":{"type":"line","strokeWidth":2.5},"encoding":{"color":{"field":"geno","type":"nominal"}}},
       {"mark":{"type":"point","filled":true,"size":100,"opacity":1},"encoding":{"color":{"field":"geno","type":"nominal"}}}
      ]},
     {"data":{"values":[{"brk":"//"}]},"mark":{"type":"text","fontSize":20,"baseline":"middle","dy":-5},
      "encoding":{"x":{"datum":-20},"y":{"datum":321},"text":{"field":"brk"}}}
    ]}
  ],"spacing":10,"bounds":"flush","resolve":{"scale":{"x":"independent","y":"independent"}}}
 ],"spacing":0,"bounds":"flush","resolve":{"scale":{"x":"independent","y":"independent"}}}
],"spacing":52,"resolve":{"scale":{"x":"independent","y":"independent"}}},
{"hconcat":[
 {"vconcat":[
  {"width":327,"height":27,
   "layer":[
    {"data":{"name":"boxes"},"transform":[{"filter":"datum.panel == 'C'"}],
     "layer":[
      {"mark":{"type":"rect","stroke":"#222","strokeWidth":1.5},
       "encoding":{"x":{"field":"start","type":"quantitative","scale":{"domain":[-16.5,60],"nice":false,"zero":false},"axis":null},"x2":{"field":"end"},
        "fill":{"field":"shade","type":"nominal","scale":{"domain":["off","on"],"range":["#ffffff","#a6a5a5"]},"legend":null}}},
      {"mark":{"type":"text","fontSize":22,"baseline":"middle"},
       "encoding":{"x":{"field":"mid","type":"quantitative"},"text":{"field":"label"}}}
     ]},
    {"data":{"values":[{"letter":"C"}]},
     "mark":{"type":"text","fontSize":26,"fontWeight":"bold","dx":-41,"dy":-29,"baseline":"middle"},
     "encoding":{"x":{"datum":-16.5},"text":{"field":"letter"}}},
    {"data":{"values":[{"head":"Ozone"}]},
     "mark":{"type":"text","fontSize":23,"dy":-32,"baseline":"middle"},
     "encoding":{"x":{"datum":21.75},"text":{"field":"head"}}}
   ]},
  {"vconcat":[
   {"width":327,"height":123,
    "layer":[
     {"data":{"name":"obs"},"transform":[{"filter":"datum.panel == 'C' && datum.geno == '112458'"}],
      "encoding":{"x":{"field":"t","type":"quantitative","scale":{"domain":[-16.5,60],"nice":false,"zero":false},"axis":null},
       "y":{"field":"gs","type":"quantitative","scale":{"domain":[587,816],"nice":false,"zero":false},"axis":{"values":[600,700,800],"title":null}}},
      "layer":[
       {"mark":{"type":"errorbar","ticks":true,"thickness":2,"color":"#111"},"encoding":{"yError":{"field":"se"}}},
       {"mark":{"type":"line","strokeWidth":2.5},"encoding":{"color":{"field":"geno","type":"nominal"}}},
       {"mark":{"type":"point","filled":true,"size":100,"opacity":1},"encoding":{"color":{"field":"geno","type":"nominal"}}}
      ]},
     {"data":{"values":[{"unit":"nmol mol⁻¹"}]},"mark":{"type":"text","align":"right","baseline":"middle","fontSize":21,"dx":-2},
      "encoding":{"x":{"datum":60},"y":{"datum":777},"text":{"field":"unit"}}},
     {"data":{"values":[{"note":"400"}]},"mark":{"type":"text","align":"left","baseline":"middle","fontSize":22},
      "encoding":{"x":{"datum":7.9},"y":{"datum":788},"text":{"field":"note"}}},
     {"data":{"values":[{"note":"400"}]},"mark":{"type":"rule","strokeWidth":2,"color":"#222"},
      "encoding":{"x":{"datum":2.6},"y":{"datum":805},"x2":{"datum":7.3},"y2":{"datum":791}}},
     {"data":{"values":[{"note":"400"}]},"mark":{"type":"point","shape":"triangle","filled":true,"size":120,"angle":290,"color":"#222","opacity":1},
      "encoding":{"x":{"datum":3.3},"y":{"datum":803}}}
    ]},
   {"width":327,"height":180,
    "layer":[
     {"data":{"name":"obs"},"transform":[{"filter":"datum.panel == 'C' && datum.geno != '112458'"}],
      "encoding":{"x":{"field":"t","type":"quantitative","scale":{"domain":[-16.5,60],"nice":false,"zero":false},"axis":{"values":[-15,0,15,30,45,60],"title":"Time (min)","titlePadding":11,"labelExpr":"'' + datum.value"}},
       "y":{"field":"gs","type":"quantitative","scale":{"domain":[0,333],"nice":false,"zero":false},"axis":{"values":[0,100,200,300],"title":"Stomatal conductance (mmol m⁻² s⁻¹)","titleY":20,"titlePadding":36}}},
      "layer":[
       {"mark":{"type":"errorbar","ticks":true,"thickness":2,"color":"#111"},"encoding":{"yError":{"field":"se"}}},
       {"mark":{"type":"line","strokeWidth":2.5},"encoding":{"color":{"field":"geno","type":"nominal"}}},
       {"mark":{"type":"point","filled":true,"size":100,"opacity":1},"encoding":{"color":{"field":"geno","type":"nominal"}}}
      ]},
     {"data":{"values":[{"brk":"//"}]},"mark":{"type":"text","fontSize":20,"baseline":"middle","dy":-5},
      "encoding":{"x":{"datum":-16.5},"y":{"datum":333},"text":{"field":"brk"}}}
    ]}
  ],"spacing":10,"bounds":"flush","resolve":{"scale":{"x":"independent","y":"independent"}}}
 ],"spacing":0,"bounds":"flush","resolve":{"scale":{"x":"independent","y":"independent"}}},
 {"vconcat":[
  {"width":329,"height":27,
   "layer":[
    {"data":{"name":"boxes"},"transform":[{"filter":"datum.panel == 'D'"}],
     "layer":[
      {"mark":{"type":"rect","stroke":"#222","strokeWidth":1.5},
       "encoding":{"x":{"field":"start","type":"quantitative","scale":{"domain":[-15,60],"nice":false,"zero":false},"axis":null},"x2":{"field":"end"},
        "fill":{"field":"shade","type":"nominal","scale":{"domain":["off","on"],"range":["#ffffff","#a6a5a5"]},"legend":null}}},
      {"mark":{"type":"text","fontSize":22,"baseline":"middle"},
       "encoding":{"x":{"field":"mid","type":"quantitative"},"text":{"field":"label"}}}
     ]},
    {"data":{"values":[{"letter":"D"}]},
     "mark":{"type":"text","fontSize":26,"fontWeight":"bold","dx":-31,"dy":-28,"baseline":"middle"},
     "encoding":{"x":{"datum":-15},"text":{"field":"letter"}}},
    {"data":{"values":[{"head":"Air humidity"}]},
     "mark":{"type":"text","fontSize":23,"dy":-32,"baseline":"middle"},
     "encoding":{"x":{"datum":22.5},"text":{"field":"head"}}}
   ]},
  {"width":329,"height":313,
   "layer":[
    {"data":{"name":"obs"},"transform":[{"filter":"datum.panel == 'D'"}],
     "encoding":{"x":{"field":"t","type":"quantitative","scale":{"domain":[-15,60],"nice":false,"zero":false},"axis":{"values":[-15,0,15,30,45,60],"title":"Time (min)","titlePadding":11,"labelExpr":"'' + datum.value"}},
      "y":{"field":"gs","type":"quantitative","scale":{"domain":[0,1203],"nice":false,"zero":false},"axis":{"values":[0,200,400,600,800,1000],"title":null,"format":"d"}}},
     "layer":[
      {"mark":{"type":"errorbar","ticks":true,"thickness":2,"color":"#111"},"encoding":{"yError":{"field":"se"}}},
      {"mark":{"type":"line","strokeWidth":2.5},"encoding":{"color":{"field":"geno","type":"nominal"}}},
      {"mark":{"type":"point","filled":true,"size":100,"opacity":1},"encoding":{"color":{"field":"geno","type":"nominal"}}}
     ]},
    {"data":{"values":[{"unit":"% RH"}]},"mark":{"type":"text","align":"right","baseline":"middle","fontSize":22,"dx":-2},
     "encoding":{"x":{"datum":60},"y":{"datum":1126},"text":{"field":"unit"}}}
   ]}
 ],"spacing":0,"bounds":"flush","resolve":{"scale":{"x":"independent","y":"independent"}}}
],"spacing":48,"resolve":{"scale":{"x":"independent","y":"independent"}}}
],
"spacing":31,
"align":"none",
"resolve":{"scale":{"x":"independent","y":"independent"}}
}
